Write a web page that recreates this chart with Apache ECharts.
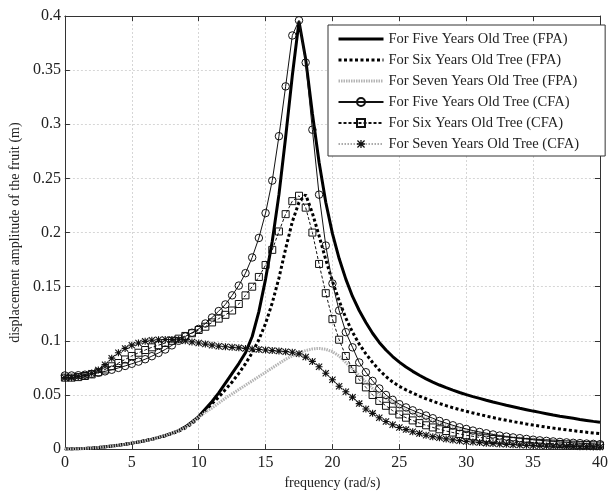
<!DOCTYPE html>
<html>
<head>
<meta charset="utf-8">
<script src="https://cdn.jsdelivr.net/npm/echarts@6/dist/echarts.min.js"></script>
<style>html,body{margin:0;padding:0;background:#fff}#c{width:611px;height:495px}</style>
</head>
<body>
<div id="c"></div>
<script>
const freq = [0,0.5,1,1.5,2,2.5,3,3.5,4,4.5,5,5.5,6,6.5,7,7.5,8,8.5,9,9.5,10,10.5,11,11.5,12,12.5,13,13.5,14,14.5,15,15.5,16,16.5,17,17.5,18,18.5,19,19.5,20,20.5,21,21.5,22,22.5,23,23.5,24,24.5,25,25.5,26,26.5,27,27.5,28,28.5,29,29.5,30,30.5,31,31.5,32,32.5,33,33.5,34,34.5,35,35.5,36,36.5,37,37.5,38,38.5,39,39.5,40];

const fpa5 = [
0,0.0001,0.0003,0.0006,0.001,0.0015,0.0021,0.0028,0.0036,0.0045,
0.0055,0.0066,0.0078,0.0092,0.0108,0.0126,0.0147,0.0171,0.0205,0.025,
0.030,0.037,0.044,0.052,0.061,0.070,0.079,0.089,0.104,0.127,
0.157,0.192,0.235,0.288,0.345,0.395,0.36,0.31,0.265,0.228,
0.199,0.176,0.157,0.141,0.128,0.117,0.107,0.0985,0.0915,0.0855,
0.0803,0.0758,0.0718,0.0682,0.0649,0.0619,0.0592,0.0567,0.0544,0.0523,
0.0503,0.0485,0.0468,0.0451,0.0435,0.042,0.0405,0.0391,0.0377,0.0364,
0.0351,0.0339,0.0327,0.0315,0.0304,0.0294,0.0284,0.0274,0.0265,0.0256,
0.0248];

const fpa6 = [
0,0.0001,0.0003,0.0006,0.001,0.0015,0.0021,0.0028,0.0036,0.0045,
0.0055,0.0066,0.0078,0.0091,0.0106,0.0123,0.0143,0.0166,0.0195,0.0235,
0.029,0.0355,0.042,0.048,0.055,0.062,0.070,0.079,0.089,0.101,
0.116,0.135,0.158,0.185,0.210,0.228,0.235,0.218,0.197,0.175,
0.155,0.137,0.121,0.108,0.097,0.088,0.080,0.073,0.067,0.062,
0.058,0.0547,0.0517,0.049,0.0465,0.0442,0.0421,0.0401,0.0382,0.0365,
0.0349,0.0334,0.0319,0.0305,0.0291,0.0278,0.0266,0.0254,0.0243,0.0232,
0.0222,0.0212,0.0203,0.0194,0.0186,0.0178,0.017,0.0163,0.0156,0.0149,
0.0143];

const fpa7 = [
0,0.0001,0.0003,0.0006,0.001,0.0015,0.0021,0.0028,0.0036,0.0045,
0.0055,0.0066,0.0078,0.0092,0.0108,0.0126,0.0147,0.017,0.0198,0.0245,
0.0295,0.034,0.038,0.0425,0.047,0.051,0.055,0.059,0.063,0.067,
0.071,0.075,0.079,0.083,0.086,0.089,0.091,0.0925,0.093,0.0922,
0.090,0.086,0.080,0.074,0.068,0.062,0.056,0.051,0.047,0.043,
0.0395,0.036,0.033,0.0305,0.028,0.026,0.024,0.0222,0.0206,0.019,
0.0176,0.0163,0.0152,0.0142,0.0133,0.0124,0.0116,0.0109,0.0102,0.0096,
0.009,0.0085,0.008,0.0076,0.0072,0.0068,0.0064,0.0061,0.0058,0.0055,
0.0052];

const cfa5 = [
0.068,0.068,0.0682,0.0687,0.0695,0.0705,0.0718,0.0733,0.075,0.0768,
0.0788,0.0808,0.083,0.0858,0.0888,0.092,0.0958,0.1,0.104,0.1075,
0.111,0.116,0.1215,0.1275,0.1336,0.142,0.151,0.1625,0.177,0.195,
0.218,0.248,0.289,0.335,0.382,0.396,0.357,0.295,0.235,0.188,
0.153,0.128,0.108,0.094,0.080,0.071,0.063,0.056,0.050,0.0455,
0.0415,0.0385,0.0358,0.0333,0.031,0.0285,0.026,0.024,0.022,0.0202,
0.0186,0.0171,0.0158,0.0146,0.0135,0.0125,0.0116,0.0108,0.0101,0.0094,
0.0087,0.0081,0.0076,0.0071,0.0066,0.0062,0.0058,0.0055,0.0051,0.0048,
0.0045];

const cfa6 = [
0.066,0.066,0.0665,0.0675,0.069,0.071,0.0735,0.0765,0.0795,0.0828,
0.086,0.089,0.0915,0.094,0.096,0.098,0.100,0.102,0.1045,0.107,
0.110,0.113,0.117,0.1205,0.124,0.128,0.134,0.142,0.150,0.159,
0.170,0.184,0.201,0.217,0.229,0.234,0.223,0.200,0.171,0.144,
0.120,0.101,0.086,0.074,0.064,0.057,0.050,0.0445,0.040,0.0355,
0.032,0.029,0.0265,0.024,0.022,0.020,0.0183,0.0167,0.0153,0.014,
0.0128,0.0118,0.0108,0.01,0.0093,0.0086,0.008,0.0075,0.007,0.0065,
0.0061,0.0057,0.0053,0.005,0.0047,0.0044,0.0041,0.0039,0.0037,0.0035,
0.0033];

const cfa7 = [
0.066,0.066,0.067,0.068,0.070,0.073,0.078,0.084,0.089,0.093,
0.096,0.098,0.0995,0.1005,0.101,0.1012,0.1012,0.101,0.100,0.099,
0.098,0.097,0.096,0.095,0.0945,0.094,0.0935,0.093,0.0925,0.092,
0.0915,0.091,0.0905,0.090,0.0895,0.088,0.085,0.081,0.076,0.070,
0.064,0.058,0.053,0.048,0.042,0.037,0.033,0.029,0.0255,0.0225,
0.020,0.018,0.016,0.0143,0.0128,0.0115,0.0104,0.0094,0.0085,0.0078,
0.0071,0.0065,0.006,0.0055,0.0051,0.0047,0.0044,0.0041,0.0038,0.0035,
0.0033,0.0031,0.0029,0.0027,0.0026,0.0024,0.0023,0.0022,0.0021,0.002,
0.0019];

const names = [
'For Five Years Old Tree (FPA)',
'For Six Years Old Tree (FPA)',
'For Seven Years Old Tree (FPA)',
'For Five Years Old Tree (CFA)',
'For Six Years Old Tree (CFA)',
'For Seven Years Old Tree (CFA)'
];

const FONT = "'Liberation Serif','Times New Roman',serif";
const pairs = arr => freq.map((f, i) => [f, arr[i]]);
const STAR = 'path://M42 0L58 0L58 100L42 100Z M0 42L100 42L100 58L0 58Z M0 11L11 0L100 89L89 100Z M89 0L100 11L11 100L0 89Z';
const HOLLOW = 'rgba(255,255,255,0)';
const NOSYM = {color: 'rgba(0,0,0,0)', borderColor: 'rgba(0,0,0,0)', borderWidth: 0};

const styles = {
  fpa5: {color: '#000', width: 3, type: 'solid'},
  fpa6: {color: '#000', width: 3, type: [3, 2.5]},
  fpa7: {color: '#b4b4b4', width: 3, type: [1.5, 1]},
};

const chart = echarts.init(document.getElementById('c'), null, {renderer: 'canvas'});
const axisCommon = {
  axisLine: {show: true, onZero: false, lineStyle: {color: '#333', width: 1}},
  axisTick: {show: true, inside: true, length: 5, lineStyle: {color: '#333'}},
};
chart.setOption({
  animation: false,
  backgroundColor: '#fff',
  grid: {left: 62, right: 6, top: 16, bottom: 40, containLabel: false},
  xAxis: [
    Object.assign({
      type: 'value', min: 0, max: 40, interval: 5, position: 'bottom',
      axisLabel: {fontFamily: FONT, fontSize: 16, color: '#222', margin: 6},
      splitLine: {show: true, lineStyle: {color: '#d6d6d6', type: [2, 2]}},
      name: 'frequency (rad/s)', nameLocation: 'middle', nameGap: 24,
      nameTextStyle: {fontFamily: FONT, fontSize: 14, color: '#222'}
    }, axisCommon),
    Object.assign({
      type: 'value', min: 0, max: 40, interval: 5, position: 'top',
      axisLabel: {show: false}, splitLine: {show: false}
    }, axisCommon)
  ],
  yAxis: [
    Object.assign({
      type: 'value', min: 0, max: 0.4, interval: 0.05, position: 'left',
      axisLabel: {fontFamily: FONT, fontSize: 16, color: '#222', margin: 4},
      splitLine: {show: true, lineStyle: {color: '#d6d6d6', type: [2, 2]}},
      name: 'displacement amplitude of the fruit (m)', nameLocation: 'middle', nameGap: 37,
      nameTextStyle: {fontFamily: FONT, fontSize: 14, color: '#222'}
    }, axisCommon),
    Object.assign({
      type: 'value', min: 0, max: 0.4, interval: 0.05, position: 'right',
      axisLabel: {show: false}, splitLine: {show: false}
    }, axisCommon)
  ],
  legend: {
    orient: 'vertical', left: 328, top: 25,
    padding: [6, 26, 4, 9], itemGap: 5, itemWidth: 45, itemHeight: 10,
    backgroundColor: '#fff', borderColor: '#333', borderWidth: 1, borderRadius: 0,
    textStyle: {fontFamily: FONT, fontSize: 14.5, color: '#222', lineHeight: 16},
    selectedMode: false,
    data: [
      {name: names[0], itemStyle: NOSYM, lineStyle: styles.fpa5},
      {name: names[1], itemStyle: NOSYM, lineStyle: styles.fpa6},
      {name: names[2], itemStyle: NOSYM, lineStyle: styles.fpa7},
      {name: names[3]},
      {name: names[4]},
      {name: names[5]}
    ]
  },
  series: [
    {name: names[0], type: 'line', data: pairs(fpa5), symbol: 'none',
     lineStyle: styles.fpa5, itemStyle: {color: '#000'}, z: 2},
    {name: names[1], type: 'line', data: pairs(fpa6), symbol: 'none',
     lineStyle: styles.fpa6, itemStyle: {color: '#000'}, z: 2},
    {name: names[2], type: 'line', data: pairs(fpa7), symbol: 'none',
     lineStyle: styles.fpa7, itemStyle: {color: '#b4b4b4'}, z: 2},
    {name: names[3], type: 'line', data: pairs(cfa5), symbol: 'circle', symbolSize: 7.5,
     lineStyle: {color: '#111', width: 1},
     itemStyle: {color: HOLLOW, borderColor: '#111', borderWidth: 1}, z: 3},
    {name: names[4], type: 'line', data: pairs(cfa6), symbol: 'rect', symbolSize: 7,
     lineStyle: {color: '#111', width: 1, type: [3, 2]},
     itemStyle: {color: HOLLOW, borderColor: '#111', borderWidth: 1}, z: 3},
    {name: names[5], type: 'line', data: pairs(cfa7), symbol: STAR, symbolSize: 7,
     lineStyle: {color: '#aaa', width: 1, type: [1.5, 1.5]},
     itemStyle: {color: '#111'}, z: 3}
  ]
});
</script>
</body>
</html>
